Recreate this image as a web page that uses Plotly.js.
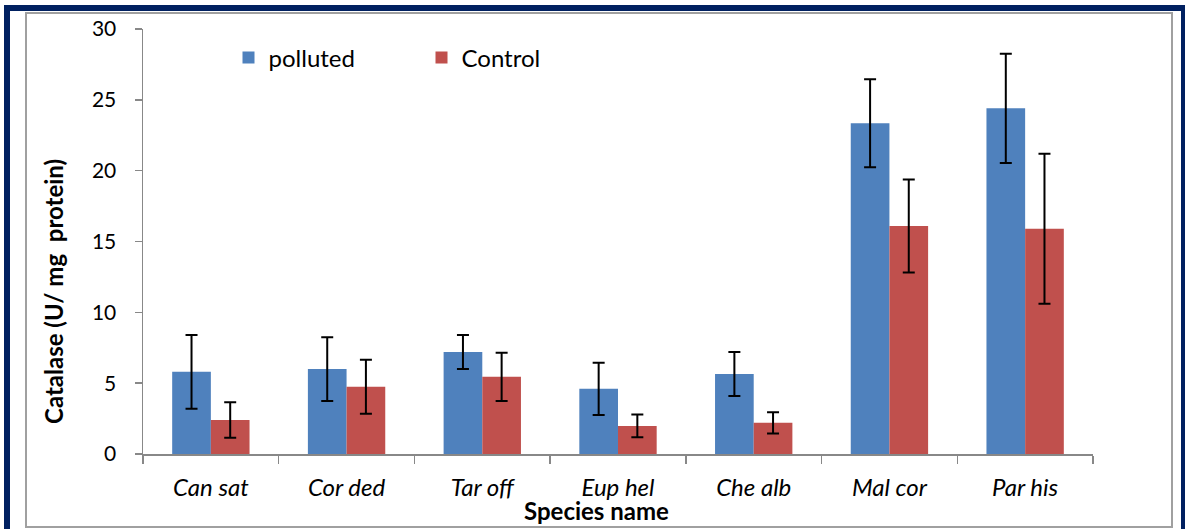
<!DOCTYPE html>
<html>
<head>
<meta charset="utf-8">
<script src="https://cdn.plot.ly/plotly-3.0.1.min.js"></script>
<style>
html,body{margin:0;padding:0;background:#fff;}
#wrap{position:relative;width:1189px;height:529px;overflow:hidden;}
#navy{position:absolute;left:4px;top:5px;width:1181px;height:530px;border:6px solid #002060;border-right-width:4px;box-sizing:border-box;}
#inner{position:absolute;left:25px;top:12px;width:1148px;height:516px;border:2px solid #a0a0a0;box-sizing:border-box;}
#chart{position:absolute;left:0;top:0;width:1189px;height:529px;}
</style>
</head>
<body>
<div id="wrap">
<div id="navy"></div>
<div id="inner"></div>
<div id="chart"></div>
</div>
<script>
const species = ["Can sat", "Cor ded", "Tar off", "Eup hel", "Che alb", "Mal cor", "Par his"];
const polluted = [5.8, 6.0, 7.2, 4.6, 5.65, 23.35, 24.4];
const pollutedErr = [2.6, 2.25, 1.2, 1.85, 1.55, 3.1, 3.85];
const control = [2.4, 4.75, 5.45, 1.98, 2.2, 16.1, 15.9];
const controlErr = [1.25, 1.9, 1.7, 0.8, 0.75, 3.28, 5.3];
const yTicks = [0, 5, 10, 15, 20, 25, 30];
const xTitle = "Species name";
const yTitle = "Catalase (U/ mg&nbsp; protein)";

const font = "Lato, 'Open Sans', sans-serif";
const traces = [
  {type:"bar", name:"polluted", x:species, y:polluted,
   marker:{color:"#4F81BD"},
   error_y:{type:"data", array:pollutedErr, visible:true, color:"#000", thickness:2, width:6}},
  {type:"bar", name:"Control", x:species, y:control,
   marker:{color:"#C0504D"},
   error_y:{type:"data", array:controlErr, visible:true, color:"#000", thickness:2, width:6}}
];
const layout = {
  width:1189, height:529,
  margin:{l:143, r:96, t:29, b:75},
  paper_bgcolor:"rgba(0,0,0,0)", plot_bgcolor:"rgba(0,0,0,0)",
  barmode:"group", bargap:0.43, bargroupgap:0,
  font:{family:font, color:"#000"},
  showlegend:true,
  legend:{orientation:"h", x:0.09, y:0.932, xanchor:"left", yanchor:"middle",
          font:{family:font, size:24, color:"#000"}, bgcolor:"rgba(0,0,0,0)",
          entrywidth:148, entrywidthmode:"pixels", traceorder:"normal"},
  xaxis:{type:"category", showline:true, linecolor:"#888", linewidth:1.5,
         ticks:"outside", tickson:"boundaries", ticklen:8, tickcolor:"#888", tickwidth:1.5,
         tickfont:{family:font, size:24, style:"italic", color:"#000"},
         ticklabelstandoff:12, showgrid:false, zeroline:false},
  yaxis:{range:[0,30], tickvals:yTicks, showline:true, linecolor:"#888", linewidth:1.5,
         ticks:"outside", ticklen:7, tickcolor:"#888", tickwidth:1.5,
         tickfont:{family:font, size:21, color:"#000"}, ticklabelstandoff:14,
         showgrid:false, zeroline:false},
  annotations:[
    {text:"<b>"+xTitle+"</b>", xref:"paper", yref:"paper", x:(596-143)/950, y:(454-510)/425,
     xanchor:"center", yanchor:"middle", showarrow:false, font:{family:font, size:24, color:"#000"}},
    {text:"<b>"+yTitle+"</b>", xref:"paper", yref:"paper", x:(53-143)/950, y:(454-292)/425,
     xanchor:"center", yanchor:"middle", textangle:-90, showarrow:false, font:{family:font, size:24, color:"#000"}}
  ]
};
Plotly.newPlot("chart", traces, layout, {displayModeBar:false, staticPlot:true});
</script>
</body>
</html>
